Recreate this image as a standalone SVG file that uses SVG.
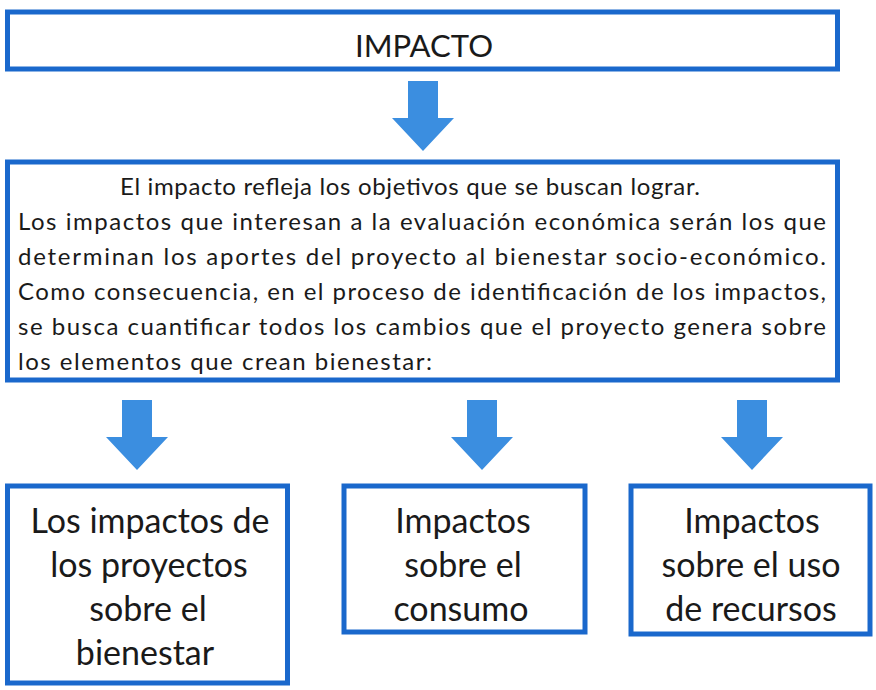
<svg xmlns="http://www.w3.org/2000/svg" xmlns:xlink="http://www.w3.org/1999/xlink" width="876" height="690" viewBox="0 0 876 690">
<defs>
<style>
.box{fill:#ffffff;stroke:#1a68cc;stroke-width:5}
.t{font-family:Lato,"Liberation Sans","DejaVu Sans",sans-serif;fill:#1a1a1a}
.m{font-size:24px}
.b{font-size:34px;text-anchor:middle}
.arr{fill:#3b8ee0}
</style>
<path id="arrow" d="M-15,0 H15 V37 H31 L0,70 L-31,37 H-15 Z"/>
</defs>
<rect width="876" height="690" fill="#ffffff"/>
<g id="impacto">
<rect class="box" x="7.5" y="12" width="830" height="57"/>
<text class="t" x="424" y="57" font-size="30" text-anchor="middle" textLength="138" lengthAdjust="spacingAndGlyphs">IMPACTO</text>
</g>
<g id="descripcion">
<rect class="box" x="7.5" y="162" width="830" height="218"/>
<text class="t m" x="120" y="195" textLength="580" lengthAdjust="spacing">El impacto refleja los objetivos que se buscan lograr.</text>
<text class="t m" x="18" y="230" textLength="808" lengthAdjust="spacing">Los impactos que interesan a la evaluación económica serán los que</text>
<text class="t m" x="18" y="265" textLength="808" lengthAdjust="spacing">determinan los aportes del proyecto al bienestar socio-económico.</text>
<text class="t m" x="18" y="300" textLength="808" lengthAdjust="spacing">Como consecuencia, en el proceso de identificación de los impactos,</text>
<text class="t m" x="18" y="335" textLength="808" lengthAdjust="spacing">se busca cuantificar todos los cambios que el proyecto genera sobre</text>
<text class="t m" x="18" y="370" textLength="414" lengthAdjust="spacing">los elementos que crean bienestar:</text>
</g>
<g id="bienestar">
<rect class="box" x="7.5" y="486" width="280" height="197"/>
<text class="t b" x="150" y="533">Los impactos de</text>
<text class="t b" x="149" y="577">los proyectos</text>
<text class="t b" x="148" y="621">sobre el</text>
<text class="t b" x="145" y="665">bienestar</text>
</g>
<g id="consumo">
<rect class="box" x="344" y="486" width="241" height="146"/>
<text class="t b" x="463" y="533">Impactos</text>
<text class="t b" x="463" y="577">sobre el</text>
<text class="t b" x="461" y="621">consumo</text>
</g>
<g id="recursos">
<rect class="box" x="631" y="486" width="239" height="148"/>
<text class="t b" x="752" y="533">Impactos</text>
<text class="t b" x="751" y="577">sobre el uso</text>
<text class="t b" x="751" y="621">de recursos</text>
</g>
<g id="connectors" class="arr">
<use xlink:href="#arrow" x="423" y="81"/>
<use xlink:href="#arrow" x="137" y="400"/>
<use xlink:href="#arrow" x="482" y="400"/>
<use xlink:href="#arrow" x="752" y="400"/>
</g>
</svg>
